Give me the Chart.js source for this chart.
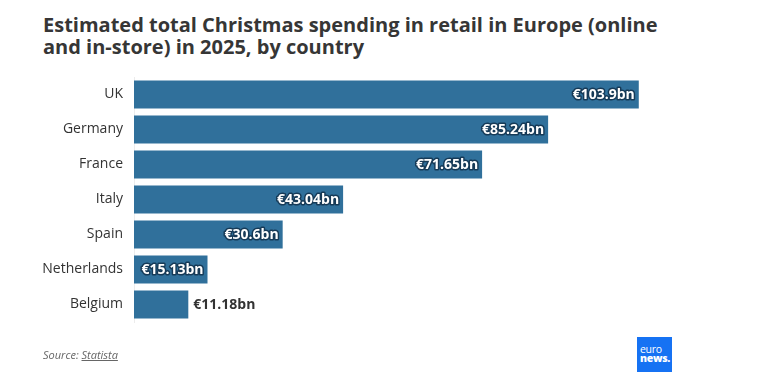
<!DOCTYPE html>
<html>
<head>
<meta charset="utf-8">
<script src="https://cdn.jsdelivr.net/npm/chart.js@4"></script>
<style>
  html, body { margin: 0; padding: 0; background: #fff; }
  body { width: 757px; height: 380px; position: relative; overflow: hidden; font-family: "Open Sans", sans-serif; }
  #title { position: absolute; left: 43px; top: 14px; width: 620px; font-size: 20px; font-weight: 700; line-height: 22px; color: #363636; }
  #wrap { position: absolute; left: 0; top: 0; width: 757px; height: 380px; }
  #source { position: absolute; left: 43px; top: 347px; font-size: 11px; font-style: italic; color: #666; }
  #source span { text-decoration: underline; }
  #logo { position: absolute; left: 637px; top: 337px; width: 35px; height: 35px; background: #1672f3; color: #fff; font-size: 10.5px; line-height: 9px; box-sizing: border-box; padding: 8px 0 0 3px; letter-spacing: -0.3px; }
  #logo b { font-weight: 800; }
</style>
</head>
<body>
<div id="title">Estimated total Christmas spending in retail in Europe (online and in-store) in 2025, by country</div>
<div id="wrap"><canvas id="chart" width="757" height="380"></canvas></div>
<div id="source">Source: <span>Statista</span></div>
<div id="logo">euro<br><b>news.</b></div>
<script>
const countries = ["UK", "Germany", "France", "Italy", "Spain", "Netherlands", "Belgium"];
const spending = [103.9, 85.24, 71.65, 43.04, 30.6, 15.13, 11.18];
const valueLabels = ["€103.9bn", "€85.24bn", "€71.65bn", "€43.04bn", "€30.6bn", "€15.13bn", "€11.18bn"];

// value labels at the end of each bar, inside when they fit
const barLabels = {
    id: 'barLabels',
    afterDatasetsDraw(chart) {
        const ctx = chart.ctx;
        const meta = chart.getDatasetMeta(0);
        ctx.save();
        ctx.font = 'bold 14px "Open Sans"';
        ctx.textBaseline = 'middle';
        meta.data.forEach((bar, i) => {
            const txt = valueLabels[i];
            const w = ctx.measureText(txt).width;
            const barW = bar.x - bar.base;
            if (barW > w + 6) {
                ctx.textAlign = 'right';
                ctx.lineJoin = 'round';
                ctx.lineWidth = 3;
                ctx.strokeStyle = '#163a57';
                ctx.strokeText(txt, bar.x - 4, bar.y + 1);
                ctx.fillStyle = '#fff';
                ctx.fillText(txt, bar.x - 4, bar.y + 1);
            } else {
                ctx.textAlign = 'left';
                ctx.fillStyle = '#333';
                ctx.fillText(txt, bar.x + 5, bar.y + 1);
            }
        });
        ctx.restore();
    }
};

new Chart(document.querySelector('#chart'), {
    type: 'bar',
    data: {
        labels: countries,
        datasets: [
            {
                data: spending,
                backgroundColor: '#30709b',
                barPercentage: 0.8,
                categoryPercentage: 1.0,
            },
        ],
    },
    options: {
        indexAxis: 'y',
        responsive: false,
        animation: false,
        layout: { padding: { top: 77, bottom: 58, left: 0, right: 40 } },
        plugins: {
            legend: { display: false },
            tooltip: { enabled: false },
        },
        scales: {
            x: {
                display: false,
                min: 0,
                max: 120,
            },
            y: {
                afterFit: (scale) => { scale.width = 134; },
                grid: { display: false, drawTicks: false },
                border: { display: true, color: '#ececec', width: 1 },
                ticks: {
                    padding: 11,
                    color: '#333',
                    font: { family: '"Open Sans"', size: 14 },
                },
            },
        },
    },
    plugins: [barLabels],
});
</script>
</body>
</html>
